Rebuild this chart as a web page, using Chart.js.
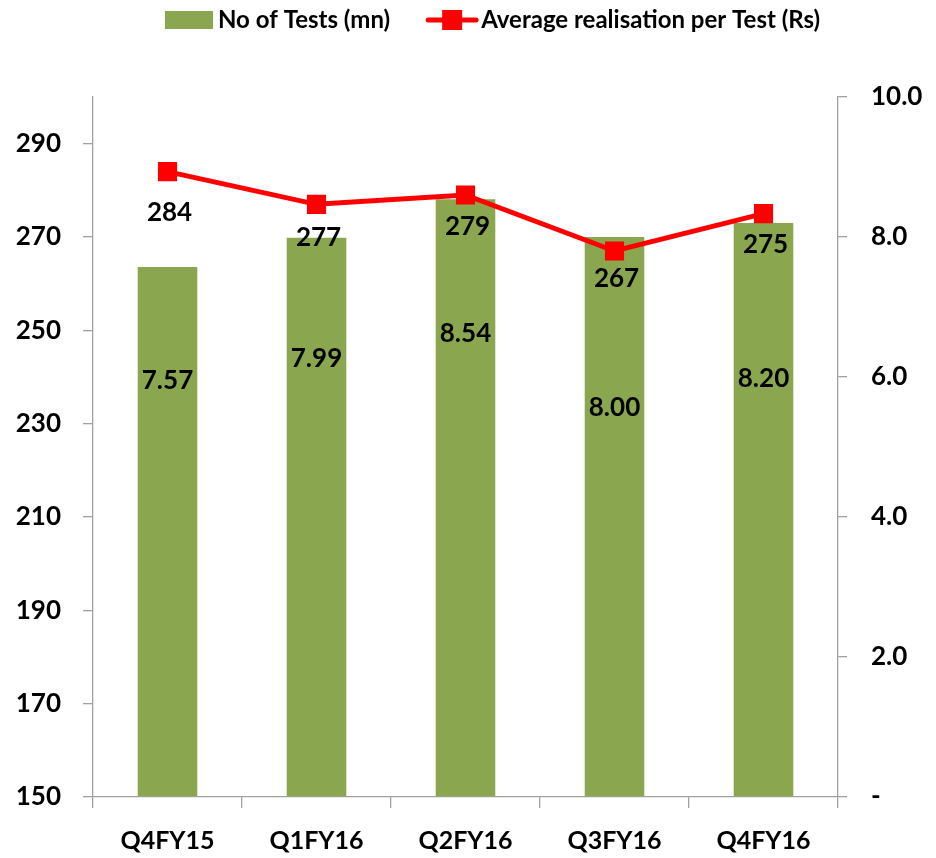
<!DOCTYPE html>
<html>
<head>
<meta charset="utf-8">
<script src="https://cdn.jsdelivr.net/npm/chart.js@4.4.1/dist/chart.umd.min.js"></script>
<style>
  html, body { margin: 0; padding: 0; background: #ffffff; }
  #wrap { width: 936px; height: 858px; position: relative; }
</style>
</head>
<body>
<div id="wrap"><canvas id="c" width="936" height="858"></canvas></div>
<script>
// ---- data ----
const categories = ['Q4FY15', 'Q1FY16', 'Q2FY16', 'Q3FY16', 'Q4FY16'];
const barLabelText = 'No of Tests (mn)';
const lineLabelText = 'Average realisation per Test (Rs)';
const barValues = [7.57, 7.99, 8.54, 8.00, 8.20];      // right axis
const lineValues = [284, 277, 279, 267, 275];          // left axis
const leftTicks = [150, 170, 190, 210, 230, 250, 270, 290];
const leftMin = 150, leftMax = 300;
const rightTicks = [0, 2, 4, 6, 8, 10];
const rightMin = 0, rightMax = 10;

// ---- label placement (style) ----
const barLabelOffset = [114, 121, 134, 171, 156];   // px below bar top
const lineLabelOffset = [41, 33, 32, 28, 31];        // px below point

const FONT = "Lato, 'Liberation Sans', sans-serif";
const GREEN = '#8AA64E';
const RED = '#FF0000';
const AXIS = '#A0A0A0';

const labelsPlugin = {
  id: 'valueLabels',
  afterDatasetsDraw(chart) {
    const ctx = chart.ctx;
    ctx.save();
    ctx.fillStyle = '#000';
    ctx.textAlign = 'center';
    ctx.textBaseline = 'middle';
    ctx.font = 'bold 26px ' + FONT;
    const barMeta = chart.getDatasetMeta(0);
    barMeta.data.forEach((el, i) => {
      ctx.fillText(barValues[i].toFixed(2), el.x, el.y + barLabelOffset[i]);
    });
    const lineMeta = chart.getDatasetMeta(1);
    lineMeta.data.forEach((el, i) => {
      ctx.fillText(String(lineValues[i]), el.x + 2, el.y + lineLabelOffset[i]);
    });
    ctx.restore();
  }
};

const legendPlugin = {
  id: 'customLegend',
  afterDraw(chart) {
    const ctx = chart.ctx;
    ctx.save();
    ctx.font = 'bold 24px ' + FONT;
    ctx.textBaseline = 'middle';
    ctx.textAlign = 'left';
    const cy = 20;
    let x = 165;
    const ds = chart.data.datasets;
    // bar item
    ctx.fillStyle = ds[0].backgroundColor;
    ctx.fillRect(x, cy - 9, 48, 18);
    x += 48 + 5;
    ctx.fillStyle = '#000';
    ctx.fillText(ds[0].label, x, cy);
    x += ctx.measureText(ds[0].label).width + 36;
    // line item
    ctx.strokeStyle = ds[1].borderColor;
    ctx.lineWidth = 5;
    ctx.lineCap = 'round';
    ctx.beginPath();
    ctx.moveTo(x + 2, cy);
    ctx.lineTo(x + 50, cy);
    ctx.stroke();
    ctx.fillStyle = ds[1].borderColor;
    ctx.fillRect(x + 16, cy - 10, 20, 20);
    x += 52 + 3;
    ctx.fillStyle = '#000';
    ctx.fillText(ds[1].label, x, cy);
    ctx.restore();
  }
};

new Chart(document.getElementById('c'), {
  data: {
    labels: categories,
    datasets: [
      {
        type: 'bar',
        label: barLabelText,
        data: barValues,
        yAxisID: 'y1',
        backgroundColor: GREEN,
        borderWidth: 0,
        categoryPercentage: 0.8,
        barPercentage: 0.5,
        order: 2
      },
      {
        type: 'line',
        label: lineLabelText,
        data: lineValues,
        yAxisID: 'y',
        borderColor: RED,
        backgroundColor: RED,
        borderWidth: 5,
        pointStyle: 'rect',
        pointRadius: 13.5,
        pointBorderWidth: 0,
        pointBackgroundColor: RED,
        tension: 0,
        order: 1
      }
    ]
  },
  options: {
    responsive: false,
    animation: false,
    devicePixelRatio: 1,
    layout: { padding: { top: 97, left: 0, right: 0, bottom: 0 } },
    plugins: {
      legend: { display: false },
      tooltip: { enabled: false }
    },
    scales: {
      x: {
        position: 'bottom',
        grid: { display: true, drawOnChartArea: false, drawTicks: true, tickLength: 11, offset: true, color: AXIS, lineWidth: 1.3 },
        border: { display: true, color: AXIS, width: 1.3 },
        ticks: { color: '#000', font: { family: FONT, size: 25, weight: 'bold' }, padding: 18, maxRotation: 0 },
        afterFit(s) { s.height = 61; }
      },
      y: {
        position: 'left',
        min: leftMin,
        max: leftMax,
        afterBuildTicks(s) { s.ticks = leftTicks.map(v => ({ value: v })); },
        grid: { display: true, drawOnChartArea: false, drawTicks: true, tickLength: 10, color: AXIS, lineWidth: 1.3 },
        border: { display: true, color: AXIS, width: 1.3 },
        ticks: { color: '#000', font: { family: FONT, size: 26, weight: 'bold' }, padding: 22, callback: v => String(v) },
        afterFit(s) { s.width = 93; }
      },
      y1: {
        position: 'right',
        min: rightMin,
        max: rightMax,
        afterBuildTicks(s) { s.ticks = rightTicks.map(v => ({ value: v })); },
        grid: { display: true, drawOnChartArea: false, drawTicks: true, tickLength: 9, color: AXIS, lineWidth: 1.3 },
        border: { display: true, color: AXIS, width: 1.3 },
        ticks: { color: '#000', font: { family: FONT, size: 26, weight: 'bold' }, padding: 24, callback: v => (v === 0 ? '-' : Number(v).toFixed(1)) },
        afterFit(s) { s.width = 98; }
      }
    }
  },
  plugins: [labelsPlugin, legendPlugin]
});
</script>
</body>
</html>
